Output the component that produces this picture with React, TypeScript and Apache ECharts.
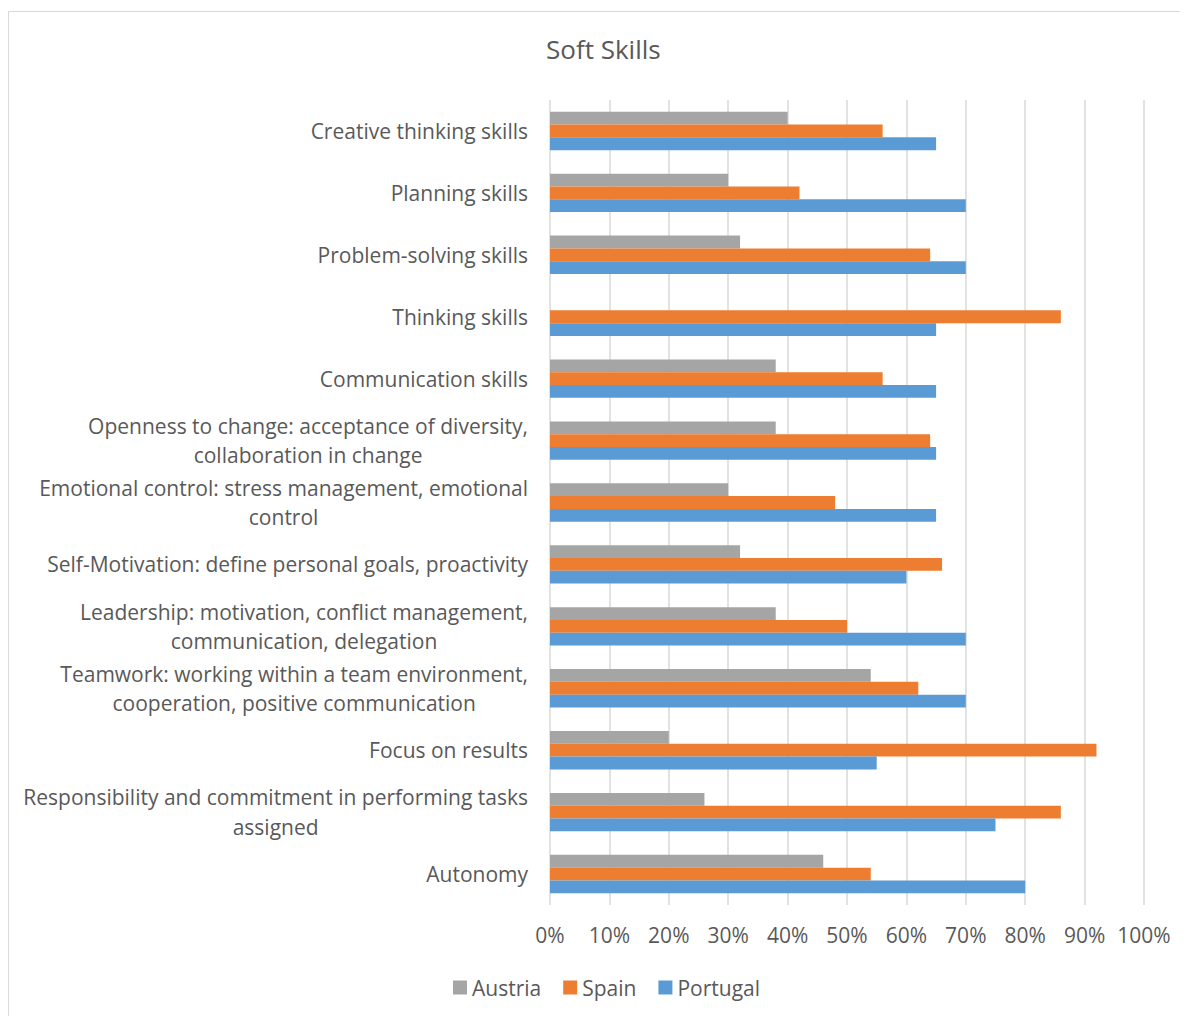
import React, { useEffect, useRef } from "react";
import * as echarts from "echarts";

const categories: string[] = [
  "Creative thinking skills",
  "Planning skills",
  "Problem-solving skills",
  "Thinking skills",
  "Communication skills",
  "Openness to change: acceptance of diversity,\ncollaboration in change",
  "Emotional control: stress management, emotional\ncontrol",
  "Self-Motivation: define personal goals, proactivity",
  "Leadership: motivation, conflict management,\ncommunication, delegation",
  "Teamwork: working within a team environment,\ncooperation, positive communication",
  "Focus on results",
  "Responsibility and commitment in performing tasks\nassigned",
  "Autonomy",
];

const austria: number[] = [40, 30, 32, 0, 38, 38, 30, 32, 38, 54, 20, 26, 46];
const spain: number[] = [56, 42, 64, 86, 56, 64, 48, 66, 50, 62, 92, 86, 54];
const portugal: number[] = [65, 70, 70, 65, 65, 65, 65, 60, 70, 70, 55, 75, 80];

const seriesNames = ["Austria", "Spain", "Portugal"];
const seriesColors = ["#A5A5A5", "#ED7D31", "#5B9BD5"];

const FONT = "Open Sans";
const TEXT = "#595959";

export default function App() {
  const ref = useRef<HTMLDivElement>(null);
  useEffect(() => {
    if (!ref.current) return;
    const chart = echarts.init(ref.current, null, { renderer: "svg" });
    const data = [austria, spain, portugal];
    chart.setOption({
      animation: false,
      textStyle: { fontFamily: FONT },
      title: {
        text: "Soft Skills",
        left: 533,
        top: 23,
        textStyle: { fontFamily: FONT, fontSize: 26, fontWeight: "normal", color: TEXT },
      },
      graphic: [
        {
          type: "rect",
          shape: { x: 0.5, y: 3.5, width: 1300, height: 1200 },
          style: { fill: "none", stroke: "#d9d9d9", lineWidth: 1 },
          silent: true,
        },
      ],
      legend: {
        data: seriesNames,
        bottom: 13,
        left: 440,
        itemWidth: 14,
        itemHeight: 14,
        itemGap: 22,
        icon: "rect",
        textStyle: { fontFamily: FONT, fontSize: 21, color: TEXT },
      },
      grid: { left: 542, right: 44, top: 92, bottom: 111, containLabel: false },
      xAxis: {
        type: "value",
        min: 0,
        max: 100,
        interval: 10,
        axisLine: { show: false },
        axisTick: { show: false },
        splitLine: { show: true, lineStyle: { color: "#d9d9d9", width: 1.5 } },
        axisLabel: {
          formatter: "{value}%",
          fontFamily: FONT,
          fontSize: 21,
          color: TEXT,
          margin: 19,
        },
      },
      yAxis: {
        type: "category",
        inverse: true,
        data: categories,
        axisLine: { show: false },
        axisTick: { show: false },
        axisLabel: {
          margin: 22,
          formatter: (v: string) =>
            v
              .split("\n")
              .map((l) => `{c|${l}}`)
              .join("\n"),
          rich: {
            c: {
              align: "center",
              fontFamily: FONT,
              fontSize: 21,
              color: TEXT,
              lineHeight: 29.5,
            },
          },
        },
      },
      series: seriesNames.map((name, i) => ({
        name,
        type: "bar",
        data: data[i],
        barGap: "0%",
        barCategoryGap: "38%",
        itemStyle: { color: seriesColors[i] },
      })),
    });
    return () => chart.dispose();
  }, []);
  return <div ref={ref} style={{ width: 1180, height: 1008 }} />;
}
